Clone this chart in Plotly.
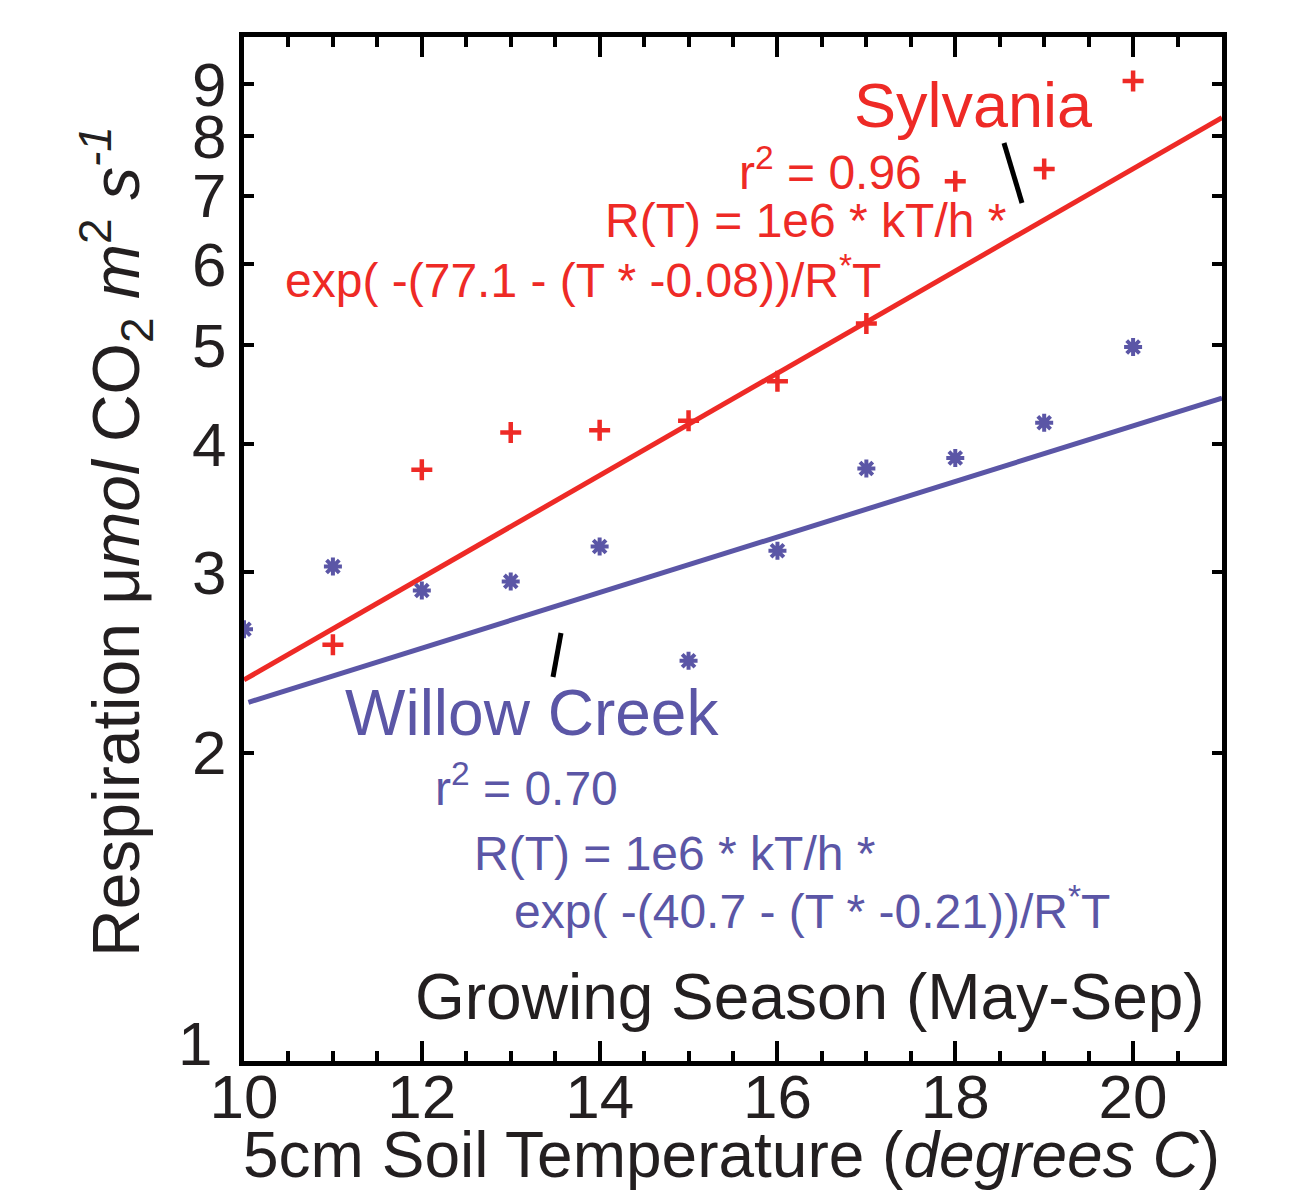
import plotly.graph_objects as go

# ---- data ----
sylvania_x = [11, 12, 13, 14, 15, 16, 17, 18, 19, 20]
sylvania_y = [2.55, 3.78, 4.11, 4.13, 4.22, 4.61, 5.25, 7.23, 7.43, 9.06]

willow_x = [10, 11, 12, 13, 14, 15, 16, 17, 18, 19, 20]
willow_y = [2.64, 3.04, 2.88, 2.94, 3.18, 2.46, 3.15, 3.79, 3.88, 4.20, 4.98]

sylvania_fit_x = [10, 21]
sylvania_fit_y = [2.356, 8.34]
willow_fit_x = [10.05, 21]
willow_fit_y = [2.24, 4.44]

x_ticks = [10, 12, 14, 16, 18, 20]
y_ticks = [1, 2, 3, 4, 5, 6, 7, 8, 9]
y_tick_labels = ["1", "2", "3", "4", "5", "6", "7", "8", "9"]

RED = "#EE2A26"
BLUE = "#5B56A6"
INK = "#231F20"
FONT = "Liberation Sans, Arial, Helvetica, sans-serif"

fig = go.Figure()

fig.add_trace(go.Scatter(x=sylvania_fit_x, y=sylvania_fit_y, mode="lines",
                         line=dict(color=RED, width=5), showlegend=False))
fig.add_trace(go.Scatter(x=willow_fit_x, y=willow_fit_y, mode="lines",
                         line=dict(color=BLUE, width=5), showlegend=False))
fig.add_trace(go.Scatter(x=sylvania_x, y=sylvania_y, mode="markers",
                         marker=dict(symbol="cross-thin", size=15,
                                     line=dict(color=RED, width=4.5)),
                         showlegend=False))
fig.add_trace(go.Scatter(x=willow_x, y=willow_y, mode="markers",
                         marker=dict(symbol="asterisk", size=15,
                                     line=dict(color=BLUE, width=4)),
                         showlegend=False))

# page body has an 8px margin; plot area in screen pixels: x 244..1222, y 37..1061
OFF = 8
W, H = 1311 - OFF, 1191 - OFF
SX0, SX1, SY0, SY1 = 244, 1222, 37, 1061
L = SX0 - OFF
T = SY0 - OFF
R = W - (SX1 - OFF)
B = H - (SY1 - OFF)


def px(x):
    return (x - SX0) / (SX1 - SX0)


def py(y):
    return (SY1 - y) / (SY1 - SY0)


ann = [
    ("Sylvania", 852, 105, RED, 63),
    ("r<sup>2</sup> = 0.96", 737, 169, RED, 48),
    ("R(T) = 1e6 * kT/h *", 603, 220, RED, 48),
    ("exp( -(77.1 - (T * -0.08))/R<sup>*</sup>T", 283, 277, RED, 48),
    ("Willow Creek", 343, 713, BLUE, 64),
    ("r<sup>2</sup> = 0.70", 433, 785, BLUE, 48),
    ("R(T) = 1e6 * kT/h *", 472, 853, BLUE, 48),
    ("exp( -(40.7 - (T * -0.21))/R<sup>*</sup>T", 512, 908, BLUE, 48),
]
for text, x, y, c, s in ann:
    fig.add_annotation(text=text, x=px(x), y=py(y), xref="paper", yref="paper",
                       xanchor="left", yanchor="middle", showarrow=False,
                       font=dict(family=FONT, size=s, color=c))

fig.add_annotation(text="Growing Season (May-Sep)", x=px(1207), y=py(997),
                   xref="paper", yref="paper", xanchor="right", yanchor="middle",
                   showarrow=False, font=dict(family=FONT, size=64, color=INK))

# axis titles
fig.add_annotation(text="5cm Soil Temperature (<i>degrees C</i>)", x=px(731), y=py(1155),
                   xref="paper", yref="paper", xanchor="center", yanchor="middle",
                   showarrow=False, font=dict(family=FONT, size=64, color=INK))
fig.add_annotation(text="Respiration μ<i>mol</i> CO<sub>2</sub> <i>m</i><sup>2</sup> <i>s</i><sup><i>-1</i></sup>",
                   x=px(116), y=py(542), xref="paper", yref="paper", textangle=-90,
                   xanchor="center", yanchor="middle", showarrow=False,
                   font=dict(family=FONT, size=66, color=INK))

# the lowest y label sits raised above the corner in the reference
fig.add_annotation(text=y_tick_labels[0], x=px(214), y=py(1043), xref="paper", yref="paper",
                   xanchor="right", yanchor="middle", showarrow=False,
                   font=dict(family=FONT, size=62, color=INK))

# pointer ticks
for (x0, y0, x1, y1) in [(1004, 143, 1022, 203), (561, 633, 553, 677)]:
    fig.add_shape(type="line", xref="paper", yref="paper",
                  x0=px(x0), y0=py(y0), x1=px(x1), y1=py(y1),
                  line=dict(color="black", width=5))

fig.update_xaxes(
    range=[10, 21], tickvals=x_ticks, ticks="inside", ticklen=20, tickwidth=4,
    tickcolor="black", showline=True, linewidth=5, linecolor="black",
    mirror="ticks", showgrid=False, zeroline=False,
    minor=dict(dtick=0.5, ticks="inside", ticklen=10, tickwidth=4, tickcolor="black", showgrid=False),
    tickfont=dict(family=FONT, size=62, color=INK), ticklabelstandoff=-22,
)
fig.update_yaxes(
    type="log", range=[0, 1], tickvals=y_ticks,
    ticktext=[""] + y_tick_labels[1:],
    ticks="inside", ticklen=10, tickwidth=4, tickcolor="black",
    showline=True, linewidth=5, linecolor="black", mirror="ticks",
    showgrid=False, zeroline=False,
    tickfont=dict(family=FONT, size=62, color=INK), ticklabelstandoff=0,
)

fig.update_layout(
    width=W, height=H,
    margin=dict(l=L, r=R, t=T, b=B, autoexpand=False),
    plot_bgcolor="white", paper_bgcolor="white",
    showlegend=False,
)

fig.write_html("out.html")
